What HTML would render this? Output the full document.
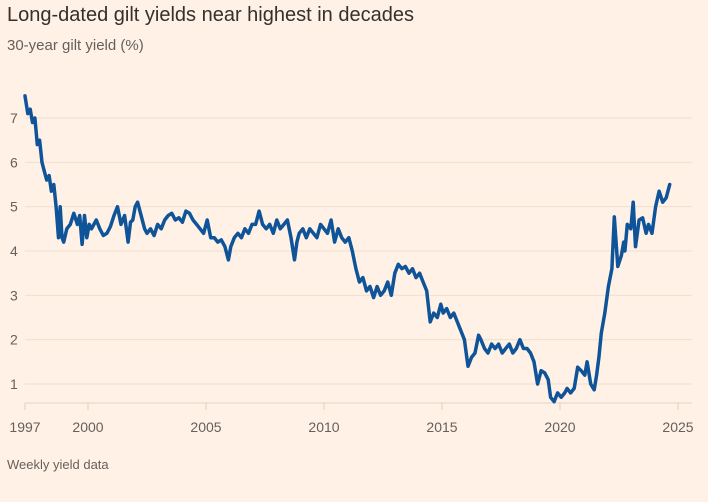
<!DOCTYPE html>
<html><head><meta charset="utf-8">
<style>
body{margin:0;background:#fff1e5;font-family:"Liberation Sans",sans-serif;}
#wrap{position:relative;width:708px;height:502px;overflow:hidden;background:#fff1e5;}
.t{position:absolute;white-space:nowrap;}
</style></head><body>
<div id="wrap">
<div class="t" style="left:7px;top:4px;font-size:20px;color:#33302e;">Long-dated gilt yields near highest in decades</div>
<div class="t" style="left:7px;top:37px;font-size:15px;color:#66605c;">30-year gilt yield (%)</div>
<svg id="chart" width="708" height="502" style="position:absolute;left:0;top:0"></svg>
<div class="t" style="left:7px;top:457px;font-size:13px;color:#66605c;">Weekly yield data</div>
</div>
<script>
const years=[1997.35,1997.45,1997.55,1997.65,1997.75,1997.85,1997.95,1998.05,1998.15,1998.25,1998.35,1998.45,1998.55,1998.65,1998.75,1998.82,1998.9,1998.97,1999.1,1999.25,1999.4,1999.55,1999.65,1999.75,1999.85,1999.95,2000.05,2000.15,2000.25,2000.35,2000.5,2000.65,2000.8,2000.95,2001.1,2001.25,2001.4,2001.55,2001.7,2001.8,2001.9,2002.0,2002.1,2002.25,2002.4,2002.5,2002.65,2002.8,2002.95,2003.1,2003.25,2003.4,2003.55,2003.7,2003.85,2004.0,2004.15,2004.3,2004.45,2004.6,2004.75,2004.9,2005.05,2005.2,2005.35,2005.5,2005.65,2005.8,2005.95,2006.05,2006.2,2006.35,2006.5,2006.65,2006.8,2006.95,2007.1,2007.25,2007.4,2007.55,2007.7,2007.85,2008.0,2008.15,2008.3,2008.45,2008.6,2008.75,2008.85,2008.95,2009.1,2009.25,2009.4,2009.55,2009.7,2009.85,2010.0,2010.15,2010.3,2010.45,2010.6,2010.75,2010.9,2011.05,2011.2,2011.35,2011.5,2011.65,2011.8,2011.95,2012.1,2012.25,2012.4,2012.55,2012.7,2012.85,2013.0,2013.15,2013.3,2013.45,2013.6,2013.75,2013.9,2014.05,2014.2,2014.35,2014.5,2014.65,2014.8,2014.95,2015.05,2015.2,2015.35,2015.5,2015.65,2015.8,2015.95,2016.1,2016.25,2016.4,2016.55,2016.65,2016.8,2016.95,2017.1,2017.25,2017.4,2017.55,2017.7,2017.85,2018.0,2018.15,2018.3,2018.45,2018.6,2018.75,2018.9,2019.05,2019.2,2019.35,2019.5,2019.6,2019.75,2019.9,2020.05,2020.2,2020.3,2020.45,2020.6,2020.75,2020.9,2021.05,2021.15,2021.3,2021.45,2021.55,2021.65,2021.75,2021.9,2022.05,2022.2,2022.3,2022.45,2022.6,2022.7,2022.75,2022.85,2023.0,2023.1,2023.2,2023.35,2023.5,2023.65,2023.75,2023.9,2024.05,2024.2,2024.35,2024.5,2024.65,2024.8,2024.9,2025.0,2025.1,2025.25,2025.4];
const yields=[7.5,7.1,7.2,6.9,7.0,6.4,6.5,6.0,5.8,5.6,5.7,5.35,5.5,5.0,4.3,5.0,4.3,4.2,4.5,4.6,4.85,4.6,4.8,4.15,4.8,4.3,4.6,4.5,4.6,4.7,4.5,4.35,4.4,4.55,4.8,5.0,4.6,4.8,4.2,4.65,4.7,5.0,5.1,4.8,4.5,4.4,4.5,4.35,4.6,4.5,4.7,4.8,4.85,4.7,4.75,4.65,4.9,4.85,4.7,4.6,4.5,4.4,4.7,4.3,4.3,4.2,4.25,4.1,3.8,4.1,4.3,4.4,4.3,4.5,4.4,4.6,4.6,4.9,4.6,4.5,4.6,4.4,4.7,4.5,4.6,4.7,4.3,3.8,4.2,4.4,4.5,4.3,4.5,4.4,4.3,4.6,4.5,4.4,4.7,4.2,4.5,4.3,4.2,4.3,4.0,3.6,3.3,3.4,3.1,3.2,2.95,3.2,3.0,3.1,3.3,3.0,3.5,3.7,3.6,3.65,3.5,3.6,3.4,3.5,3.3,3.1,2.4,2.6,2.5,2.8,2.6,2.7,2.5,2.6,2.4,2.2,2.0,1.4,1.6,1.7,2.1,2.0,1.8,1.7,1.9,1.8,1.9,1.7,1.8,1.9,1.7,1.8,2.0,1.8,1.8,1.7,1.5,1.0,1.3,1.25,1.1,0.7,0.6,0.8,0.7,0.8,0.9,0.8,0.9,1.38,1.3,1.2,1.5,1.0,0.87,1.2,1.6,2.15,2.6,3.2,3.6,4.77,3.65,3.9,4.2,4.0,4.6,4.5,5.1,4.1,4.7,4.75,4.4,4.6,4.4,5.0,5.35,5.1,5.2,5.5];
const yTicks=[1,2,3,4,5,6,7];
const xTicks=[1997,2000,2005,2010,2015,2020,2025];
const NS="http://www.w3.org/2000/svg";
const svg=document.getElementById('chart');
function xs(yr){return yr<=1997.35?25:88+(yr-2000)*23.6;}
function xr(yr){return 88+(yr-2000)*23.6;}
function ys(v){return 384-(v-1)*44.33;}
function mk(tag,attrs){const e=document.createElementNS(NS,tag);for(const k in attrs)e.setAttribute(k,attrs[k]);svg.appendChild(e);return e;}
yTicks.forEach(v=>{
  const g=mk('line',{x1:25,x2:692,y1:ys(v),y2:ys(v),stroke:'#f2dfce','stroke-width':1});
  
  
  const t=mk('text',{x:10,y:ys(v)+5,'font-size':14,fill:'#66605c','font-family':'Liberation Sans, sans-serif'});
  t.textContent=v;
  
  
});
const ax=mk('line',{x1:25,x2:692,y1:403,y2:403,stroke:'#e6d5c5','stroke-width':1});


xTicks.forEach(yr=>{
  const x=yr===1997?25:xr(yr);
  const tk=mk('line',{x1:x,x2:x,y1:403,y2:410,stroke:'#e0cfbf','stroke-width':1});
  
  
  const t=mk('text',{x:x,y:432,'font-size':14,fill:'#66605c','text-anchor':'middle','font-family':'Liberation Sans, sans-serif'});
  t.textContent=yr;
  
  
});
let d='';
years.forEach((yr,i)=>{d+=(i?'L':'M')+xs(yr).toFixed(1)+','+ys(yields[i]).toFixed(1);});
const p=mk('path',{d:d,fill:'none',stroke:'#0f5499','stroke-width':3.5,'stroke-linejoin':'round','stroke-linecap':'round'});


</script>
</body></html>
